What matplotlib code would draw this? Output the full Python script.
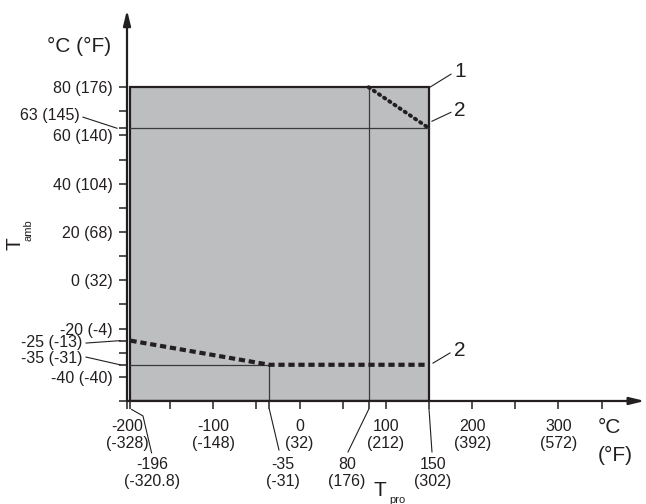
import matplotlib.pyplot as plt
from matplotlib.patches import Rectangle

plt.rcParams['font.family'] = ['Liberation Sans', 'DejaVu Sans']

# values (deg C)
t_pro_min = -196
t_pro_max = 150
t_amb_max = 80
t_amb_63 = 63
t_amb_low = -35
t_pro_mid = 80
t_pro_low = -35

upper_x = [80, 150]
upper_y = [80, 63]
lower_x = [-196, -35, 150]
lower_y = [-25, -35, -35]

y_major = [-40, -20, 0, 20, 40, 60, 80]
y_labels = ['-40 (-40)', '-20 (-4)', '0 (32)', '20 (68)', '40 (104)', '60 (140)', '80 (176)']
y_minor = [-50, -35, -30, -25, -10, 10, 30, 50, 63, 70]

x_major = [-200, -100, 0, 100, 200, 300]
x_labels = ['-200\n(-328)', '-100\n(-148)', '0\n(32)', '100\n(212)', '200\n(392)', '300\n(572)']
x_minor = [-196, -150, -50, -35, 50, 80, 150, 250, 350]

gray = '#bcbec0'
ink = '#231f20'

fig = plt.figure(figsize=(6.46, 5.04), dpi=100)
ax = fig.add_axes([0.1966, 0.2044, 0.8015, 0.7758])
ax.set_xlim(-200, 400)
ax.set_ylim(-50, 112)
for s in ax.spines.values():
    s.set_visible(False)

# operating area
ax.add_patch(Rectangle((t_pro_min, -50), t_pro_max - t_pro_min, t_amb_max + 50,
                       fc=gray, ec=ink, lw=1.6, zorder=1))
ax.plot([t_pro_min, t_pro_max], [t_amb_63, t_amb_63], color='#3a3a3a', lw=0.9, zorder=2)
ax.plot([t_pro_mid, t_pro_mid], [-50, t_amb_max], color='#3a3a3a', lw=0.9, zorder=2)
ax.plot([t_pro_min, t_pro_low], [t_amb_low, t_amb_low], color='#3a3a3a', lw=0.9, zorder=2)
ax.plot([t_pro_low, t_pro_low], [-50, t_amb_low], color='#3a3a3a', lw=0.9, zorder=2)

# limit curves
ax.plot(lower_x, lower_y, color=ink, lw=3, dashes=(1.5, 0.9), zorder=3)
ax.plot(upper_x, upper_y, color=ink, lw=2.8, dashes=(0.35, 1.25),
        dash_capstyle='round', zorder=3)

# axes with arrows
arr = dict(arrowstyle='-|>,head_length=0.9,head_width=0.22', lw=1.6, color=ink,
           shrinkA=0, shrinkB=0)
ax.annotate('', xy=(-200, 112), xytext=(-200, -50), arrowprops=arr, annotation_clip=False)
ax.annotate('', xy=(400, -50), xytext=(-200, -50), arrowprops=arr, annotation_clip=False)

ax.set_yticks(y_major)
ax.set_yticklabels(y_labels)
ax.set_yticks(y_minor, minor=True)
ax.set_xticks(x_major)
ax.set_xticklabels(x_labels, linespacing=1.15)
ax.set_xticks(x_minor, minor=True)
ax.tick_params(which='both', direction='out', length=6, width=1.1, color=ink,
               labelcolor=ink, labelsize=11.5)
ax.tick_params(axis='y', which='both', pad=4)
ax.tick_params(axis='x', which='both', pad=7)

# leader lines
lead = dict(color=ink, lw=0.8, clip_on=False)
ax.plot([-251, -211.6], [67.6, 63], **lead)
ax.plot([-247.5, -208.1], [-26.0, -25], **lead)
ax.plot([-247.5, -208.1], [-31.8, -35], **lead)
ax.plot([-194.7, -181.5, -171.5], [-53.5, -56.2, -71.5], **lead)
ax.plot([-35, -23.9], [-53.5, -70.3], **lead)
ax.plot([80, 56.1], [-53.5, -71.1], **lead)
ax.plot([150, 153.4], [-53.5, -71.1], **lead)
ax.plot([151, 175.4], [80, 85.4], **lead)
ax.plot([153.4, 175.4], [65.9, 69.6], **lead)
ax.plot([154.6, 174.3], [-34.3, -30.1], **lead)

tk = dict(color=ink, fontsize=11.5, clip_on=False)
ax.text(-254.5, 68.4, '63 (145)', ha='right', va='center', **tk)
ax.text(-252.1, -25.6, '-25 (-13)', ha='right', va='center', **tk)
ax.text(-252.1, -32.4, '-35 (-31)', ha='right', va='center', **tk)
ax.text(-171, -73.3, '-196\n(-320.8)', ha='center', va='top', linespacing=1.15, **tk)
ax.text(-19.2, -73.3, '-35\n(-31)', ha='center', va='top', linespacing=1.15, **tk)
ax.text(54.9, -73.3, '80\n(176)', ha='center', va='top', linespacing=1.15, **tk)
ax.text(154.6, -73.3, '150\n(302)', ha='center', va='top', linespacing=1.15, **tk)

big = dict(color=ink, fontsize=15, clip_on=False)
ax.text(179, 86.5, '1', ha='left', va='center', **big)
ax.text(179, 70.5, '2', ha='left', va='center', **big)
ax.text(179, -29, '2', ha='left', va='center', **big)
ax.text(-255, 97, '°C (°F)', ha='center', va='center', **big)
ax.text(345.8, -60.8, '°C', ha='left', va='center', **big)
ax.text(345.8, -72.4, '(°F)', ha='left', va='center', **big)
ax.text(93.2, -86.9, 'T', ha='center', va='center', **big)
ax.text(112.9, -91.0, 'pro', ha='center', va='center', color=ink, fontsize=8, clip_on=False)
ax.text(-330, 15.4, 'T', ha='center', va='center', rotation=90, **big)
ax.text(-314.7, 20.8, 'amb', ha='center', va='center', rotation=90, color=ink,
        fontsize=8, clip_on=False)

fig.savefig('out.png', dpi=100)
